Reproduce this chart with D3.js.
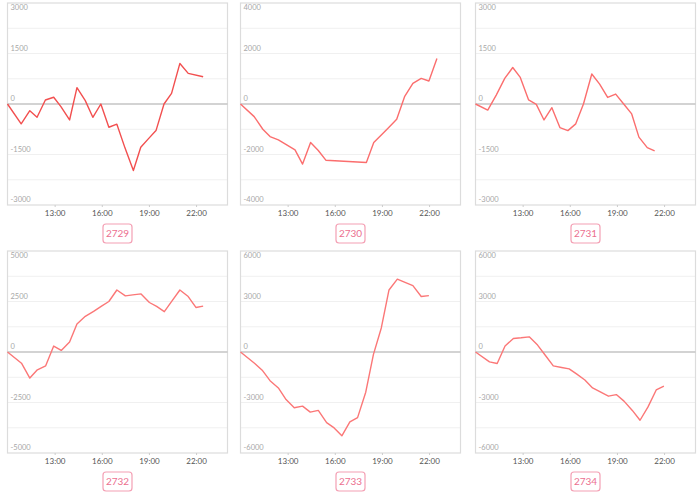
<!DOCTYPE html>
<html><head><meta charset="utf-8">
<script src="https://cdn.jsdelivr.net/npm/d3@7"></script>
<style>
html,body{margin:0;padding:0;background:#fff;}
svg{display:block;}
</style></head>
<body>
<svg id="chart" width="700" height="496"></svg>
<script>
// ---- data ----
const panelNames = ["2729", "2730", "2731", "2732", "2733", "2734"];
const yLimits = [3000, 4000, 3000, 5000, 6000, 6000];
const yLabelSteps = [1500, 2000, 1500, 2500, 3000, 3000];
const xTickHours = [13, 16, 19, 22];

const times2729 = [10, 10.87, 11.42, 11.88, 12.41, 12.94, 13.4, 13.95, 14.42, 14.95, 15.43, 15.94, 16.45, 16.96, 17.48, 18.01, 18.48, 18.96, 19.45, 19.96, 20.44, 20.97, 21.5, 22.45];
const values2729 = [0, -590, -200, -395, 120, 200, -80, -475, 485, 100, -395, 0, -690, -600, -1310, -1975, -1285, -1035, -790, 0, 315, 1205, 910, 810];

const times2730 = [10, 10.87, 11.42, 11.88, 12.41, 12.94, 13.47, 13.95, 14.46, 14.95, 15.43, 18.01, 18.48, 18.96, 19.45, 19.94, 20.44, 20.97, 21.5, 21.99, 22.5];
const values2730 = [0, -500, -1000, -1290, -1420, -1620, -1815, -2380, -1525, -1840, -2225, -2315, -1525, -1225, -920, -605, 290, 815, 1015, 910, 1800];

const times2731 = [10, 10.78, 11.32, 11.86, 12.37, 12.85, 13.38, 13.87, 14.36, 14.86, 15.37, 15.88, 16.38, 16.87, 17.4, 17.9, 18.41, 18.92, 19.43, 19.94, 20.4, 20.93, 21.4];
const values2731 = [0, -180, 265, 760, 1085, 790, 120, -10, -475, -110, -700, -790, -590, 0, 890, 590, 195, 295, 0, -295, -985, -1295, -1390];

const times2732 = [10, 10.89, 11.42, 11.9, 12.43, 12.94, 13.42, 13.95, 14.42, 14.95, 15.48, 15.96, 16.45, 16.96, 17.5, 17.97, 18.5, 19.03, 19.49, 19.98, 20.47, 20.97, 21.5, 21.99, 22.45];
const values2732 = [0, -555, -1290, -880, -685, 295, 80, 490, 1390, 1765, 2010, 2255, 2500, 3070, 2780, 2830, 2875, 2450, 2255, 1995, 2535, 3070, 2745, 2205, 2270];

const times2733 = [10, 10.89, 11.38, 11.88, 12.41, 12.9, 13.42, 13.95, 14.44, 14.95, 15.48, 15.96, 16.45, 16.96, 17.45, 17.97, 18.46, 18.96, 19.45, 19.98, 20.47, 20.97, 21.5, 21.99];
const values2733 = [0, -665, -1080, -1705, -2135, -2825, -3315, -3215, -3570, -3470, -4195, -4510, -4980, -4155, -3900, -2390, -140, 1430, 3685, 4330, 4135, 3940, 3295, 3350];

const times2734 = [10, 10.89, 11.38, 11.88, 12.41, 12.9, 13.42, 13.95, 14.44, 14.95, 15.48, 15.96, 16.45, 16.96, 17.45, 17.97, 18.46, 18.96, 19.45, 19.98, 20.47, 20.97, 21.5, 21.99];
const values2734 = [0, -590, -685, 355, 805, 845, 900, 410, -195, -825, -920, -1000, -1315, -1665, -2135, -2390, -2625, -2530, -2920, -3470, -4055, -3275, -2255, -2020];

const seriesTimes = [times2729, times2730, times2731, times2732, times2733, times2734];
const seriesValues = [values2729, values2730, values2731, values2732, values2733, values2734];

// ---- layout ----
const colLefts = [7.5, 240.5, 475.5];
const plotW = 220;
const rowTops = [3, 251];
const plotH = 202;
const lineColors = ["#f24f4f", "#fb6e6e", "#fb6e6e", "#fb7777", "#fb7777", "#fb7777"];

const svg = d3.select("#chart");
const fmtHour = h => d3.format("02d")(h) + ":00";

panelNames.forEach((name, i) => {
  const col = i % 3, row = Math.floor(i / 3);
  const left = colLefts[col], top = rowTops[row];
  const g = svg.append("g");
  const x = d3.scaleLinear().domain([10, 24]).range([left, left + plotW]);
  const lim = yLimits[i], step = yLabelSteps[i];
  const y = d3.scaleLinear().domain([-lim, lim]).range([top + plotH, top]);

  // grid lines (half steps)
  const gridVals = d3.range(-lim, lim + 1, step / 2);
  g.selectAll("line.grid").data(gridVals.filter(v => v !== 0 && Math.abs(v) !== lim))
    .join("line")
    .attr("x1", left).attr("x2", left + plotW)
    .attr("y1", d => y(d)).attr("y2", d => y(d))
    .attr("stroke", "#f0f0f0").attr("stroke-width", 1);

  // border
  g.append("rect").attr("x", left).attr("y", top).attr("width", plotW).attr("height", plotH)
    .attr("fill", "none").attr("stroke", "#dcdcdc").attr("stroke-width", 1.2);

  // zero line
  g.append("line").attr("x1", left).attr("x2", left + plotW)
    .attr("y1", y(0)).attr("y2", y(0))
    .attr("stroke", "#c4c4c4").attr("stroke-width", 1.3);

  // y labels
  const labVals = d3.range(-lim, lim + 1, step);
  g.selectAll("text.yl").data(labVals).join("text")
    .attr("x", left + 3)
    .attr("y", d => d === lim ? y(d) + 7 : y(d) - 3)
    .attr("font-family", "Lato, 'Open Sans', sans-serif")
    .attr("font-size", 7.5)
    .attr("fill", "#a8a8a8")
    .text(d => d);

  // x axis ticks
  const xAxis = d3.axisBottom(x).tickValues(xTickHours).tickFormat(fmtHour).tickSize(2).tickPadding(3);
  const ax = g.append("g").attr("transform", `translate(0,${top + plotH})`).call(xAxis);
  ax.select(".domain").remove();
  ax.selectAll(".tick line").attr("stroke", "#ccc");
  ax.selectAll(".tick text").attr("font-family", "Lato, 'Open Sans', sans-serif")
    .attr("font-size", 8).attr("fill", "#555");

  // line
  const pts = seriesTimes[i].map((t, k) => [t, seriesValues[i][k]]);
  const line = d3.line().x(d => x(d[0])).y(d => y(d[1]));
  g.append("path").datum(pts).attr("d", line)
    .attr("fill", "none").attr("stroke", lineColors[i]).attr("stroke-width", 1.4)
    .attr("stroke-linejoin", "round");

  // name label box
  const cx = left + plotW / 2;
  const by = top + plotH + 19;
  const bw = 29, bh = 19;
  g.append("rect").attr("x", cx - bw / 2).attr("y", by).attr("width", bw).attr("height", bh)
    .attr("rx", 3).attr("fill", "#fff").attr("stroke", "#f4a0b4").attr("stroke-width", 1.2);
  g.append("text").attr("x", cx).attr("y", by + bh / 2 + 3.5)
    .attr("text-anchor", "middle")
    .attr("font-family", "Lato, 'Open Sans', sans-serif")
    .attr("font-size", 10).attr("fill", "#ec6f8f")
    .text(name);
});
</script>
</body></html>
